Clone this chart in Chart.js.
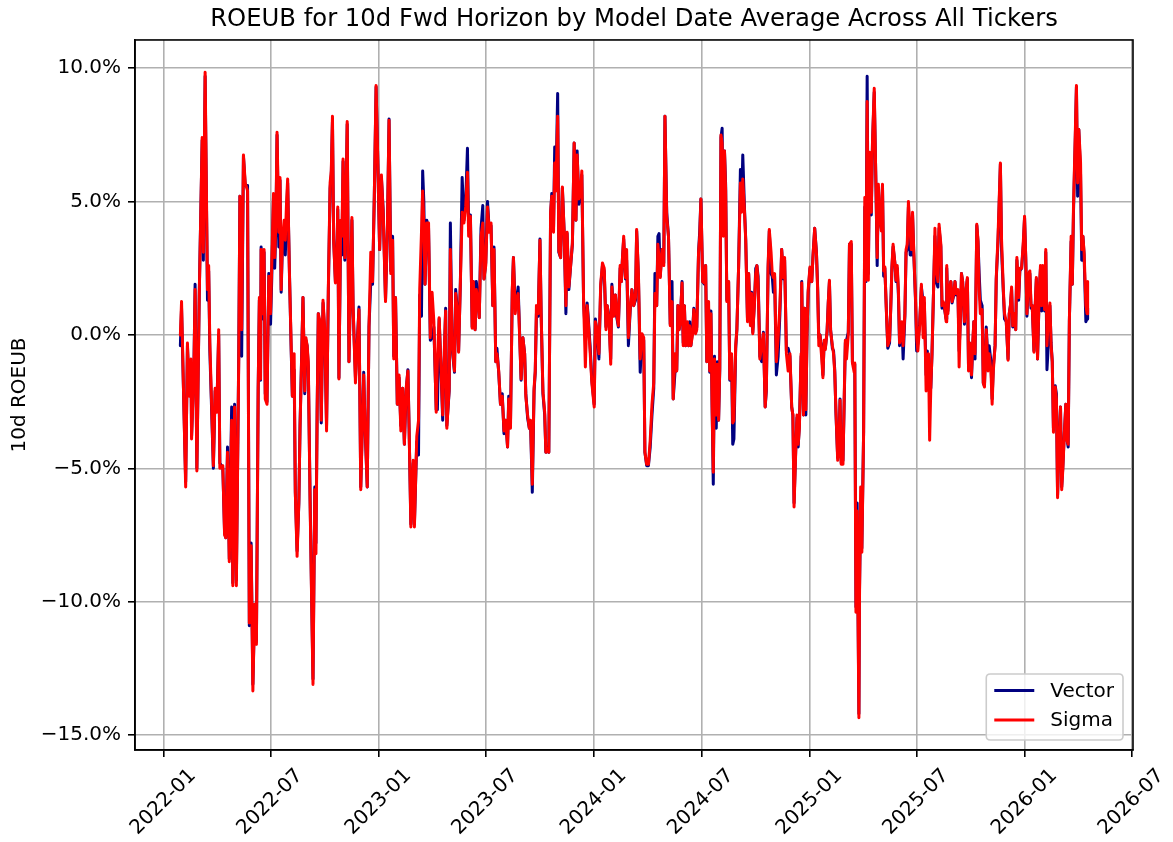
<!DOCTYPE html>
<html><head><meta charset="utf-8">
<script src="https://cdn.jsdelivr.net/npm/chart.js@4.4.1/dist/chart.umd.min.js"></script>
<style>html,body{margin:0;padding:0;background:#fff;}#wrap{width:1173px;height:842px;}</style>
</head><body><div id="wrap"><canvas id="c" width="1173" height="842"></canvas></div>
<script>
const dates = [
'2022-01-29','2022-01-31','2022-02-07','2022-02-10','2022-02-13','2022-02-16','2022-02-17','2022-02-21','2022-02-23','2022-02-26',
'2022-03-02','2022-03-07','2022-03-09','2022-03-12','2022-03-16','2022-03-18','2022-03-20','2022-03-26','2022-03-29','2022-04-01',
'2022-04-04','2022-04-06','2022-04-11','2022-04-14','2022-04-16','2022-04-19','2022-04-22','2022-04-26','2022-04-28','2022-05-01',
'2022-05-04','2022-05-08','2022-05-10','2022-05-13','2022-05-16','2022-05-19','2022-05-23','2022-05-26','2022-05-29','2022-06-01',
'2022-06-04','2022-06-07','2022-06-10','2022-06-12','2022-06-14','2022-06-15','2022-06-18',
'2022-06-20','2022-06-22','2022-06-25','2022-06-28','2022-07-01','2022-07-03','2022-07-06','2022-07-08','2022-07-10','2022-07-12',
'2022-07-15','2022-07-17','2022-07-19','2022-07-21','2022-07-24','2022-07-26','2022-07-28','2022-07-30','2022-08-02','2022-08-05',
'2022-08-07','2022-08-10','2022-08-12','2022-08-15','2022-08-18','2022-08-20','2022-08-23','2022-08-25','2022-08-28','2022-08-30',
'2022-09-01','2022-09-03','2022-09-06','2022-09-09','2022-09-11','2022-09-14','2022-09-16','2022-09-18','2022-09-20','2022-09-23',
'2022-09-25','2022-09-28','2022-10-01','2022-10-04','2022-10-07','2022-10-10','2022-10-12','2022-10-14','2022-10-16','2022-10-19',
'2022-10-21','2022-10-23','2022-10-25','2022-10-28','2022-10-30','2022-11-01','2022-11-04','2022-11-06','2022-11-08','2022-11-11',
'2022-11-13','2022-11-16','2022-11-18',
'2022-11-22','2022-11-25','2022-11-28','2022-12-01','2022-12-06','2022-12-08','2022-12-12','2022-12-15','2022-12-18','2022-12-21',
'2022-12-24','2022-12-27','2022-12-30','2023-01-02','2023-01-05','2023-01-08','2023-01-12','2023-01-15','2023-01-18','2023-01-21',
'2023-01-24','2023-01-26','2023-01-29','2023-02-01','2023-02-04','2023-02-07','2023-02-10','2023-02-13','2023-02-16','2023-02-19',
'2023-02-21','2023-02-24','2023-02-28','2023-03-02','2023-03-06','2023-03-09','2023-03-11','2023-03-14','2023-03-16','2023-03-18',
'2023-03-20','2023-03-23','2023-03-26','2023-03-29','2023-04-01','2023-04-04','2023-04-08','2023-04-10','2023-04-13','2023-04-16',
'2023-04-19','2023-04-22','2023-04-24','2023-04-26',
'2023-04-30','2023-05-02','2023-05-05','2023-05-09','2023-05-11','2023-05-14','2023-05-16','2023-05-19','2023-05-22','2023-05-25',
'2023-05-28','2023-05-31','2023-06-02','2023-06-05','2023-06-08','2023-06-10','2023-06-13','2023-06-15','2023-06-18','2023-06-20',
'2023-06-23','2023-06-26','2023-06-28','2023-07-01','2023-07-04','2023-07-07','2023-07-10','2023-07-13','2023-07-15','2023-07-18',
'2023-07-20','2023-07-23','2023-07-26','2023-07-29','2023-08-01','2023-08-04','2023-08-07','2023-08-09','2023-08-12','2023-08-15',
'2023-08-17','2023-08-20','2023-08-23','2023-08-25','2023-08-28','2023-08-30','2023-09-02','2023-09-05','2023-09-07','2023-09-10',
'2023-09-13','2023-09-15','2023-09-18','2023-09-21','2023-09-23','2023-09-25',
'2023-09-28','2023-10-01','2023-10-03','2023-10-06','2023-10-09','2023-10-11','2023-10-14','2023-10-16','2023-10-19','2023-10-21',
'2023-10-24','2023-10-26','2023-10-28','2023-10-31','2023-11-02','2023-11-05','2023-11-08','2023-11-11','2023-11-14','2023-11-16',
'2023-11-19','2023-11-22','2023-11-25','2023-11-28','2023-12-01','2023-12-03','2023-12-06','2023-12-09','2023-12-11','2023-12-14',
'2023-12-17','2023-12-20','2023-12-22','2023-12-25','2023-12-28','2024-01-01','2024-01-03','2024-01-06','2024-01-09','2024-01-12',
'2024-01-15','2024-01-18','2024-01-21','2024-01-23','2024-01-26','2024-01-29','2024-01-31','2024-02-03','2024-02-06','2024-02-08',
'2024-02-11','2024-02-14','2024-02-16','2024-02-18','2024-02-20','2024-02-23',
'2024-02-25','2024-02-28','2024-03-02','2024-03-05','2024-03-08','2024-03-11','2024-03-13','2024-03-16','2024-03-19','2024-03-22',
'2024-03-25','2024-03-27','2024-03-30','2024-04-02','2024-04-05','2024-04-08','2024-04-11','2024-04-13','2024-04-16','2024-04-18',
'2024-04-20','2024-04-22','2024-04-25','2024-04-28','2024-04-30','2024-05-03','2024-05-06','2024-05-09','2024-05-12','2024-05-14',
'2024-05-17','2024-05-20','2024-05-22','2024-05-24','2024-05-26','2024-05-29','2024-05-31','2024-06-02','2024-06-04','2024-06-07',
'2024-06-09','2024-06-11','2024-06-13','2024-06-16','2024-06-18','2024-06-21','2024-06-23','2024-06-26','2024-06-28','2024-06-30',
'2024-07-03','2024-07-06','2024-07-08','2024-07-10','2024-07-13','2024-07-15','2024-07-17','2024-07-19',
'2024-07-21','2024-07-23','2024-07-26','2024-07-28','2024-07-30','2024-08-01','2024-08-03','2024-08-05','2024-08-07','2024-08-09',
'2024-08-11','2024-08-13','2024-08-16','2024-08-18','2024-08-21','2024-08-23','2024-08-25','2024-08-28','2024-08-30','2024-09-02',
'2024-09-05','2024-09-07','2024-09-09','2024-09-12','2024-09-14','2024-09-17','2024-09-19','2024-09-22','2024-09-24','2024-09-26',
'2024-09-29','2024-10-01','2024-10-03','2024-10-05','2024-10-08','2024-10-11','2024-10-14','2024-10-17','2024-10-19','2024-10-22',
'2024-10-24','2024-10-27','2024-10-29','2024-10-31','2024-11-02','2024-11-05','2024-11-08','2024-11-11','2024-11-14','2024-11-17',
'2024-11-19','2024-11-22','2024-11-25','2024-11-28','2024-12-01','2024-12-03','2024-12-05','2024-12-08','2024-12-10','2024-12-12',
'2024-12-14','2024-12-17','2024-12-18','2024-12-21','2024-12-23','2024-12-25','2024-12-27',
'2024-12-29','2025-01-01','2025-01-04','2025-01-06','2025-01-09','2025-01-12','2025-01-14','2025-01-16','2025-01-18','2025-01-21',
'2025-01-23','2025-01-25','2025-01-27','2025-01-30','2025-02-01','2025-02-03','2025-02-05','2025-02-08','2025-02-10','2025-02-12',
'2025-02-14','2025-02-17','2025-02-19','2025-02-21','2025-02-23','2025-02-26','2025-02-28','2025-03-02','2025-03-04','2025-03-07',
'2025-03-09','2025-03-12','2025-03-14','2025-03-17','2025-03-18','2025-03-20','2025-03-22','2025-03-25','2025-03-26','2025-03-28',
'2025-03-30','2025-04-02','2025-04-04','2025-04-06','2025-04-08','2025-04-10','2025-04-12','2025-04-15','2025-04-17','2025-04-20',
'2025-04-23','2025-04-25','2025-04-27','2025-04-29','2025-05-02','2025-05-04','2025-05-06','2025-05-08','2025-05-11','2025-05-13',
'2025-05-16','2025-05-18','2025-05-20','2025-05-22','2025-05-25','2025-05-27',
'2025-05-29','2025-05-31','2025-06-02','2025-06-04','2025-06-06','2025-06-08','2025-06-11','2025-06-13','2025-06-15','2025-06-17',
'2025-06-20','2025-06-22','2025-06-24','2025-06-26','2025-06-29','2025-07-01','2025-07-03','2025-07-06','2025-07-09','2025-07-12',
'2025-07-14','2025-07-17','2025-07-19','2025-07-21','2025-07-23','2025-07-25','2025-07-27','2025-07-30','2025-08-01','2025-08-03',
'2025-08-06','2025-08-08','2025-08-11','2025-08-13','2025-08-15','2025-08-17','2025-08-20','2025-08-21','2025-08-23','2025-08-25',
'2025-08-28','2025-08-30','2025-09-02','2025-09-04','2025-09-06','2025-09-09','2025-09-11','2025-09-13','2025-09-15','2025-09-17',
'2025-09-20','2025-09-22','2025-09-25','2025-09-27','2025-09-29','2025-10-02','2025-10-04','2025-10-06','2025-10-08','2025-10-11',
'2025-10-13','2025-10-15','2025-10-17','2025-10-20','2025-10-22','2025-10-24',
'2025-10-27','2025-10-30','2025-11-01','2025-11-04','2025-11-06','2025-11-08','2025-11-11','2025-11-13','2025-11-16','2025-11-18',
'2025-11-20','2025-11-22','2025-11-25','2025-11-27','2025-11-30','2025-12-03','2025-12-05','2025-12-07','2025-12-09','2025-12-11',
'2025-12-14','2025-12-16','2025-12-18','2025-12-21','2025-12-23','2025-12-26','2025-12-29','2025-12-31','2026-01-02','2026-01-04',
'2026-01-07','2026-01-09','2026-01-11','2026-01-13','2026-01-16','2026-01-18','2026-01-20','2026-01-22','2026-01-25','2026-01-27',
'2026-01-29','2026-01-31','2026-02-03','2026-02-05','2026-02-07','2026-02-09','2026-02-12','2026-02-14','2026-02-16','2026-02-18',
'2026-02-21','2026-02-23','2026-02-25','2026-02-27','2026-03-02','2026-03-04','2026-03-06','2026-03-08','2026-03-11','2026-03-13',
'2026-03-15','2026-03-17','2026-03-20','2026-03-22','2026-03-24','2026-03-27','2026-03-29','2026-03-31','2026-04-02','2026-04-05',
'2026-04-07','2026-04-09','2026-04-11','2026-04-14','2026-04-16','2026-04-17'
];

const sigma = [
0.0,1.25,-5.7,-0.3,-2.3,-0.9,-3.9,-1.3,1.7,-5.1,
1.4,7.4,3.1,9.85,1.7,2.6,-0.3,-4.9,-2.0,-2.9,
0.2,-5.0,-4.9,-7.5,-7.6,-4.4,-8.5,-3.2,-9.4,-2.7,
-9.4,-1.0,5.2,0.2,6.75,5.7,5.4,-10.8,-7.9,-13.35,
-10.1,-11.6,-2.1,1.4,-1.65,3.2,0.8,
3.2,-2.4,-2.6,2.2,0.8,2.6,5.3,2.9,4.2,7.6,
3.85,5.9,1.7,3.55,4.3,3.55,4.9,5.85,2.3,-0.4,
-2.3,-0.7,-5.9,-8.3,-6.2,-3.5,-0.6,1.4,-2.1,-0.1,
-0.4,-1.0,-6.2,-10.4,-13.1,-5.8,-8.2,-3.0,0.8,0.5,
-3.2,1.3,0.2,-3.6,1.7,5.7,6.15,8.2,3.55,1.95,
2.5,4.8,-1.65,4.3,3.7,6.6,2.9,5.1,8.0,-1.0,
1.1,4.4,1.1,
-1.8,-0.4,0.95,-5.8,-1.5,-3.2,-5.7,0.3,3.1,2.0,
5.2,9.35,6.45,3.2,6.0,4.6,1.25,3.85,8.05,2.3,
3.55,-0.9,1.4,-2.6,-1.5,-3.6,-2.0,-4.1,-2.0,-1.35,
-3.5,-7.2,-4.7,-7.2,-3.8,-3.2,1.7,3.85,5.4,4.2,
1.9,4.2,4.2,-0.1,1.6,0.5,-2.9,-1.0,0.65,-1.2,
-3.0,-0.4,0.9,-3.5,
-2.0,3.2,-0.4,-1.35,1.55,0.8,-0.65,2.0,4.6,4.2,
4.8,6.1,3.7,4.45,0.25,2.0,0.2,1.7,1.25,0.65,
3.7,4.2,2.1,2.6,4.8,3.85,4.2,1.1,3.2,-1.0,
-0.7,-1.35,-2.6,-2.3,-3.6,-3.2,-4.2,-2.4,-3.5,1.7,
2.9,0.8,1.4,1.55,-0.4,-1.65,-0.1,-0.7,-2.3,-3.0,
-3.5,-3.2,-5.6,-2.0,-1.35,1.1,
0.8,3.55,0.8,-2.1,-2.9,-4.4,-4.25,-4.4,4.6,5.2,
3.85,6.45,5.4,8.2,3.15,2.9,5.55,3.85,1.1,3.85,
1.8,2.6,3.45,7.2,4.3,6.75,5.1,5.4,6.15,1.25,
-1.2,1.1,0.5,-0.6,-1.8,-2.7,0.5,0.2,-0.7,1.9,
2.7,2.5,0.2,1.1,0.65,-1.1,1.8,0.7,1.5,0.8,
0.35,2.6,2.0,2.9,3.7,2.15,
3.2,-0.1,0.95,1.7,1.1,1.4,3.95,2.3,-0.9,0.05,
-0.1,-4.4,-4.85,-4.85,-3.95,-2.6,-1.8,1.55,1.1,3.4,
2.9,2.15,3.2,2.6,8.2,4.45,3.7,0.35,1.25,-2.4,
-0.7,-1.35,1.1,0.2,0.5,1.95,-0.4,1.1,-0.4,0.5,
-0.4,0.35,-0.4,0.05,0.95,0.05,0.2,3.1,3.7,5.1,
2.0,1.95,2.6,-1.0,1.25,-1.35,0.8,-2.7,
-5.15,-0.9,-3.0,-1.1,-3.2,-1.2,7.5,7.2,3.7,6.9,
5.4,1.25,2.0,-1.65,-0.7,-3.3,-3.2,-0.4,0.2,2.6,
5.7,4.6,5.85,4.6,3.55,0.5,2.3,0.35,1.55,0.05,
1.25,2.3,2.6,2.0,-0.9,-0.4,0.05,-2.7,-2.0,2.6,
3.95,3.1,2.3,2.15,2.3,-1.0,-0.1,1.1,3.2,2.15,
2.9,-0.7,-1.35,-0.7,-2.7,-3.0,-6.45,-4.25,-3.0,-4.1,
-3.5,-0.7,1.95,-3.0,1.0,-2.8,0.0,
1.7,2.55,2.0,2.9,4.0,3.05,1.7,-0.4,0.0,-0.9,
-1.6,-0.2,-0.55,0.15,1.2,2.05,0.15,-0.4,-0.7,-1.4,
-2.8,-4.7,-4.35,-2.45,-4.85,-4.85,-2.45,-0.2,-0.9,0.0,
3.4,3.5,-1.05,-1.4,-1.05,-10.4,-6.6,-14.35,-9.85,-5.7,
-8.15,-3.65,5.15,2.05,8.75,2.05,6.85,4.6,7.2,9.25,
5.5,2.9,5.65,4.6,3.9,5.65,2.4,2.55,0.65,-0.4,
-0.2,1.0,2.55,3.4,2.7,2.05,
2.6,1.7,-0.3,-0.1,0.5,-0.4,0.8,3.2,3.4,5.0,
3.85,3.2,4.6,3.2,1.4,-0.1,-0.6,0.35,1.9,-0.1,
1.4,-2.1,-1.35,-0.7,-3.95,-1.95,-0.7,2.0,4.0,2.5,
2.0,4.15,3.4,1.1,1.25,1.1,0.5,2.6,0.8,1.7,
2.0,1.25,1.55,2.0,1.55,1.7,-1.2,0.5,2.3,2.0,
0.5,1.55,2.15,-1.35,-0.3,-1.5,-0.3,0.5,-0.7,4.15,
3.55,1.7,0.8,0.95,-1.8,-1.95,
0.2,-1.35,-0.7,-1.35,-2.6,-1.35,-0.4,2.15,3.7,5.1,
6.45,3.55,1.7,0.8,0.5,-0.95,0.8,1.1,1.8,0.35,
0.8,0.2,2.9,1.4,2.5,2.5,3.55,4.45,2.9,0.8,
2.3,2.4,1.1,1.1,-0.65,1.1,2.15,-0.9,1.7,2.6,
1.1,2.6,0.95,3.2,-0.4,0.5,1.2,-0.4,-1.0,-3.65,
-1.95,-2.4,-6.1,-4.4,-2.7,-5.8,-5.0,-3.95,-2.6,-3.95,
-4.1,0.5,3.7,1.9,4.8,7.5,9.35,5.7,7.7,6.45,
3.2,3.7,3.1,1.1,0.8,2.0
];

const vector = [
-0.4,1.0,-5.5,-0.4,-2.1,-1.1,-3.8,-1.2,1.9,-5.0,
1.5,7.3,2.8,9.7,1.3,2.4,-0.6,-5.0,-2.1,-2.6,
0.0,-4.8,-5.0,-7.4,-7.6,-4.2,-8.4,-2.7,-9.3,-2.6,
-9.2,-0.8,5.2,-0.8,6.7,5.6,5.6,-10.9,-7.8,-13.1,
-10.3,-11.5,-2.0,1.3,-1.7,3.3,0.6,
3.1,-2.2,-2.5,2.3,0.4,2.1,5.2,2.5,4.0,7.5,
3.3,5.8,1.6,3.3,3.9,3.0,4.3,5.7,2.4,-0.6,
-2.3,-1.3,-5.9,-8.1,-6.3,-3.4,-0.5,1.4,-2.2,-0.2,
-0.4,-1.2,-6.0,-10.3,-12.9,-5.7,-7.8,-2.9,0.8,-0.3,
-3.3,1.2,0.0,-3.4,1.6,5.5,6.0,8.0,3.6,2.0,
2.6,4.7,-1.6,4.1,3.0,6.5,2.8,5.0,7.9,-1.0,
1.1,4.3,1.0,
-1.6,-0.3,1.05,-5.7,-1.4,-3.3,-5.7,0.3,2.0,1.9,
5.2,9.3,6.4,3.2,5.9,4.7,1.3,3.7,8.1,2.4,
3.7,-0.8,1.4,-2.6,-1.6,-3.4,-2.0,-4.1,-2.1,-1.3,
-3.5,-7.1,-4.8,-7.1,-4.0,-4.5,1.5,0.7,6.15,5.0,
1.9,4.3,4.0,-0.2,-0.1,0.3,-2.8,-2.8,0.6,-1.2,
-3.2,-0.5,1.0,-3.4,
-2.1,4.2,-0.5,-1.4,1.7,0.9,-0.6,2.0,5.9,4.3,
5.0,7.0,4.0,4.5,0.3,2.0,0.2,2.0,1.3,0.65,
4.0,4.85,2.1,2.7,5.0,3.9,4.1,1.1,3.3,-1.0,
-0.5,-1.4,-2.6,-2.2,-3.7,-3.2,-4.2,-2.3,-3.3,1.6,
2.9,1.0,1.4,1.8,-0.3,-1.7,-0.1,-0.7,-2.2,-3.1,
-3.5,-3.3,-5.9,-2.1,-1.4,0.8,
0.7,3.6,0.8,-2.2,-3.0,-4.4,-4.2,-4.4,4.5,5.3,
4.0,7.05,5.5,9.05,3.1,2.9,5.5,3.9,0.8,3.8,
1.7,2.6,3.4,7.2,4.3,6.9,4.9,5.3,6.0,1.2,
0.0,1.2,0.6,-0.4,-1.7,-2.6,0.6,0.0,-0.9,1.8,
2.6,2.4,0.3,1.1,0.7,-0.9,1.9,0.8,1.5,0.7,
0.3,2.5,2.0,2.9,3.6,2.1,
2.8,-0.4,0.9,1.7,1.1,1.3,3.9,2.2,-1.4,0.0,
-0.2,-4.4,-4.9,-4.9,-4.2,-3.0,-2.0,2.3,1.1,3.7,
3.8,2.2,3.2,2.7,8.2,4.6,3.7,0.4,2.0,-2.4,
-1.4,-1.3,1.1,0.2,0.5,2.0,-0.3,1.1,-0.4,0.4,
-0.4,0.5,-0.4,0.2,1.0,0.1,0.3,3.1,3.9,5.1,
2.0,1.9,2.6,-1.0,1.0,-1.4,0.9,-2.7,
-5.6,-0.8,-3.5,-1.0,-3.2,-1.3,7.4,7.75,3.8,6.9,
5.6,1.3,2.0,-1.7,-0.8,-4.1,-3.9,-0.5,0.2,2.6,
6.2,4.7,6.75,4.7,3.6,0.6,2.3,0.4,1.6,0.1,
1.3,2.5,2.6,2.2,-0.8,-1.0,0.1,-2.7,-2.1,2.5,
3.9,2.3,2.2,1.6,2.2,-1.5,-0.8,0.8,3.2,2.1,
2.8,-0.6,-0.5,-0.8,-2.7,-3.0,-6.3,-4.2,-3.1,-4.2,
-3.4,-0.8,2.0,-3.0,1.0,-3.0,0.0,
1.6,2.5,2.0,2.9,4.0,3.1,1.8,-0.1,0.0,-0.6,
-1.5,-0.3,-0.5,0.1,1.2,2.0,0.2,-0.5,-0.6,-1.3,
-2.9,-4.6,-4.3,-2.4,-4.8,-4.7,-2.6,-0.3,-0.2,0.1,
3.4,3.4,-1.0,-1.2,-1.1,-10.2,-6.3,-14.2,-9.6,-6.5,
-8.0,-3.6,4.8,2.0,9.7,2.3,6.8,4.5,7.1,9.1,
5.5,2.6,5.5,4.4,4.0,5.6,2.2,2.5,0.7,-0.5,
-0.3,1.0,2.5,3.3,2.7,2.0,
2.5,1.5,-0.4,-0.1,0.4,-0.9,0.7,3.1,3.2,4.8,
3.0,3.0,4.5,3.1,1.3,-0.6,-0.3,0.4,1.8,1.2,
1.2,-1.5,-0.6,-1.2,-2.0,-2.0,-0.7,2.0,3.7,2.0,
1.8,4.0,3.3,1.0,1.2,1.0,0.6,2.5,0.9,1.6,
2.0,1.2,1.5,2.0,1.5,1.6,-0.6,0.5,2.3,2.0,
0.4,1.5,2.1,-1.3,-0.3,-1.6,-0.5,0.5,-0.9,4.1,
3.5,2.3,1.3,1.1,-1.8,-1.9,
0.3,-1.0,-0.4,-1.0,-2.4,-1.2,-0.4,2.1,3.5,4.9,
6.4,3.2,1.6,0.6,0.5,-0.9,0.8,1.1,1.7,0.3,
0.7,0.2,2.8,1.3,2.4,2.5,3.4,4.4,2.9,0.7,
2.2,2.3,1.0,1.1,-0.6,1.0,2.1,-0.9,1.6,2.5,
0.9,2.4,0.9,3.1,-1.3,-0.5,1.1,-0.3,-1.0,-3.5,
-1.9,-2.2,-6.0,-4.3,-2.7,-5.7,-4.9,-3.9,-2.6,-3.9,
-4.2,0.5,3.5,1.9,4.6,7.3,9.3,5.2,7.7,6.0,
2.8,3.7,3.0,0.5,0.6,1.0
];

const xTickLabels = ['2022-01','2022-07','2023-01','2023-07','2024-01','2024-07','2025-01','2025-07','2026-01','2026-07'];
const yTickValues = [-15, -10, -5, 0, 5, 10];

const FONT = "'DejaVu Sans', sans-serif";
const n = Math.min(dates.length, sigma.length, vector.length);
const xs = dates.slice(0, n).map(s => Date.parse(s));
const xSpan = xs[n - 1] - xs[0];
const xMin = xs[0] - 0.05 * xSpan, xMax = xs[n - 1] + 0.05 * xSpan;
const allY = sigma.slice(0, n).concat(vector.slice(0, n));
const yLo = Math.min(...allY), yHi = Math.max(...allY);
const yMin = yLo - 0.05 * (yHi - yLo), yMax = yHi + 0.05 * (yHi - yLo);
const xTickValues = xTickLabels.map(s => Date.UTC(+s.slice(0, 4), +s.slice(5, 7) - 1, 1));

const framePlugin = {
  id: 'frame',
  afterDatasetsDraw(chart) {
    const {ctx, chartArea: a} = chart;
    ctx.save();
    ctx.strokeStyle = '#000';
    ctx.lineWidth = 1.6;
    ctx.strokeRect(a.left, a.top, a.right - a.left, a.bottom - a.top);
    ctx.restore();
  }
};

const legendPlugin = {
  id: 'mplLegend',
  afterDraw(chart) {
    const {ctx, chartArea: a} = chart;
    const items = chart.data.datasets.map(d => ({label: d.label, color: d.borderColor}));
    ctx.save();
    ctx.font = '20px ' + FONT;
    const tw = Math.max(...items.map(i => ctx.measureText(i.label).width));
    const w = 8 + 40 + 16 + tw + 9, h = 66;
    const right = a.right - 10, bottom = a.bottom - 10;
    const left = right - w, top = bottom - h, r = 4;
    ctx.beginPath();
    ctx.moveTo(left + r, top);
    ctx.lineTo(right - r, top); ctx.quadraticCurveTo(right, top, right, top + r);
    ctx.lineTo(right, bottom - r); ctx.quadraticCurveTo(right, bottom, right - r, bottom);
    ctx.lineTo(left + r, bottom); ctx.quadraticCurveTo(left, bottom, left, bottom - r);
    ctx.lineTo(left, top + r); ctx.quadraticCurveTo(left, top, left + r, top);
    ctx.closePath();
    ctx.fillStyle = 'rgba(255,255,255,0.8)';
    ctx.fill();
    ctx.strokeStyle = '#cccccc';
    ctx.lineWidth = 1.6;
    ctx.stroke();
    items.forEach((it, i) => {
      const cy = top + 16.5 + i * 29.5;
      ctx.beginPath();
      ctx.moveTo(left + 8, cy);
      ctx.lineTo(left + 48, cy);
      ctx.strokeStyle = it.color;
      ctx.lineWidth = 3;
      ctx.stroke();
      ctx.fillStyle = '#000';
      ctx.textBaseline = 'middle';
      ctx.textAlign = 'left';
      ctx.fillText(it.label, left + 64, cy + 1);
    });
    ctx.restore();
  }
};

const gridOpts = {color: '#b0b0b0', lineWidth: 1.6, tickColor: '#000', tickLength: 7, tickWidth: 1.6, drawTicks: true};
const borderOpts = {display: true, color: '#000', width: 1.6};

new Chart(document.getElementById('c'), {
  type: 'line',
  data: {
    datasets: [
      {label: 'Vector', data: xs.map((x, i) => ({x, y: vector[i]})), borderColor: '#000080', backgroundColor: '#000080',
       borderWidth: 3, pointRadius: 0, pointHoverRadius: 0, tension: 0, order: 2, borderJoinStyle: 'round', borderCapStyle: 'round'},
      {label: 'Sigma', data: xs.map((x, i) => ({x, y: sigma[i]})), borderColor: '#ff0000', backgroundColor: '#ff0000',
       borderWidth: 3, pointRadius: 0, pointHoverRadius: 0, tension: 0, order: 1, borderJoinStyle: 'round', borderCapStyle: 'round'}
    ]
  },
  options: {
    responsive: false, animation: false, devicePixelRatio: 1,
    layout: {padding: {left: 0, right: 40, top: 0, bottom: 0}},
    plugins: {
      legend: {display: false},
      tooltip: {enabled: false},
      title: {display: true, fullSize: false, text: 'ROEUB for 10d Fwd Horizon by Model Date Average Across All Tickers',
              color: '#000', font: {family: FONT, size: 24.3, weight: 'normal', lineHeight: 1.2}, padding: {top: 4.8, bottom: 6}}
    },
    scales: {
      x: {
        type: 'linear', min: xMin, max: xMax,
        afterBuildTicks: s => { s.ticks = xTickValues.map(v => ({value: v})); },
        afterFit: s => { s.height = 92; s.paddingLeft = 0; s.paddingRight = 0; },
        ticks: {autoSkip: false, maxRotation: 45, minRotation: 45, color: '#000', font: {family: FONT, size: 20},
                padding: 7, labelOffset: 29, callback: (v, i) => xTickLabels[i]},
        grid: gridOpts, border: borderOpts
      },
      y: {
        type: 'linear', min: yMin, max: yMax,
        afterBuildTicks: s => { s.ticks = yTickValues.map(v => ({value: v})); },
        afterFit: s => { s.width = 135; s.paddingTop = 0; s.paddingBottom = 0; },
        ticks: {color: '#000', font: {family: FONT, size: 20}, padding: 7,
                callback: v => (v < 0 ? '\u2212' : '') + Math.abs(v).toFixed(1) + '%'},
        grid: gridOpts, border: borderOpts,
        title: {display: true, text: '10d ROEUB', color: '#000', font: {family: FONT, size: 20}, padding: {top: 8, bottom: 0}}
      }
    }
  },
  plugins: [framePlugin, legendPlugin]
});
</script></body></html>
